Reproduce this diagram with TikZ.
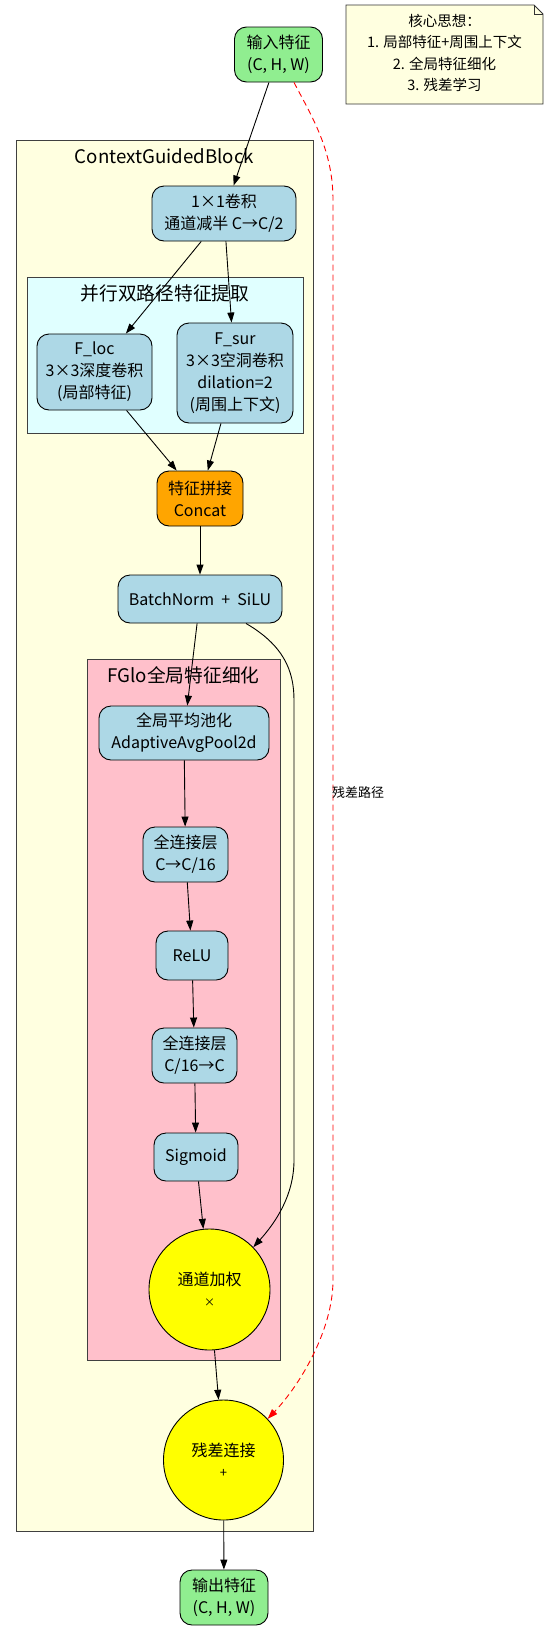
\documentclass[tikz,border=0pt]{standalone}
\usepackage{fontspec}
\setmainfont{Noto Sans CJK SC}
\usetikzlibrary{arrows.meta}

\definecolor{iogreen}{HTML}{90EE90}
\definecolor{opblue}{HTML}{ADD8E6}
\definecolor{oporange}{HTML}{FFA500}
\definecolor{opyellow}{HTML}{FFFF00}
\definecolor{grpyellow}{HTML}{FFFFE0}
\definecolor{grpcyan}{HTML}{E0FFFF}
\definecolor{grppink}{HTML}{FFC0CB}

\begin{document}
\begin{tikzpicture}[
  x=1pt,
  y=-1pt,
  grp/.style={draw=black!75,line width=0.9pt},
  grplab/.style={font=\fontsize{18.7}{22}\selectfont},
  blk/.style={draw=black,line width=0.9pt,rounded corners=12pt,align=center,inner sep=0pt,font=\fontsize{16}{22}\selectfont},
  io/.style={blk,fill=iogreen,minimum width=88pt,minimum height=55pt},
  op/.style={blk,fill=opblue},
  joinop/.style={draw=black,line width=0.9pt,circle,fill=opyellow,minimum size=121pt,inner sep=0pt,align=center,font=\fontsize{16}{21}\selectfont},
  edge/.style={-{Triangle[length=10pt,width=7pt]},line width=0.9pt},
  skip/.style={edge,draw=red,dash pattern=on 6pt off 4pt},
  lab/.style={font=\fontsize{13}{15}\selectfont}
]
\useasboundingbox[fill=white] (0,0) rectangle (547,1630);
% clusters
\path[grp,fill=grpyellow] (16,140) rectangle (313,1531);
\path[grp,fill=grpcyan] (27,277) rectangle (303,433);
\path[grp,fill=grppink] (87,659) rectangle (280,1360);
\node[grplab] (cgb) at (164.5,156) {ContextGuidedBlock};
\node[grplab] (dual) at (165,293) {并行双路径特征提取};
\node[grplab] (fglo) at (183.5,675) {FGlo全局特征细化};
% note
\path[draw=black!80,line width=0.9pt,fill=grpyellow] (346,5) -- (534,5) -- (543,14) -- (543,104) -- (346,104) -- cycle;
\draw[black!80,line width=0.9pt] (534,5) -- (534,14) -- (543,14);
\node[align=center,font=\fontsize{14.5}{21.5}\selectfont] (note) at (444.5,53) {核心思想：\\1. 局部特征+周围上下文\\2. 全局特征细化\\3. 残差学习};
% nodes
\node[io] (in) at (278.5,54.5) {输入特征\\(C, H, W)};
\node[op,minimum width=144pt,minimum height=55pt] (conv1) at (224,213.5) {1×1卷积\\通道减半 C→C/2};
\node[op,minimum width=115pt,minimum height=76pt] (floc) at (94.5,372) {F\_loc\\3×3深度卷积\\(局部特征)};
\node[op,minimum width=116pt,minimum height=100pt] (fsur) at (235,373) {F\_sur\\3×3空洞卷积\\dilation=2\\(周围上下文)};
\node[blk,fill=oporange,minimum width=86pt,minimum height=55pt] (concat) at (200,498.5) {特征拼接\\Concat};
\node[op,minimum width=164pt,minimum height=48pt] (bn) at (200,599) {BatchNorm\hspace{0.45em}+\hspace{0.45em}SiLU};
\node[op,minimum width=170pt,minimum height=54pt] (pool) at (184,733) {全局平均池化\\AdaptiveAvgPool2d};
\node[op,minimum width=85pt,minimum height=55pt] (fc1) at (185.5,854.5) {全连接层\\C→C/16};
\node[op,minimum width=72pt,minimum height=49pt] (relu) at (192,955.5) {ReLU};
\node[op,minimum width=85pt,minimum height=55pt] (fc2) at (194.5,1055.5) {全连接层\\C/16→C};
\node[op,minimum width=84pt,minimum height=48pt] (sig) at (196,1157) {Sigmoid};
\node[joinop] (mul) at (209.5,1289.5) {通道加权\\{\fontsize{11}{21}\selectfont ×}};
\node[joinop,minimum size=120pt] (add) at (223.5,1460) {残差连接\\{\fontsize{13}{21}\selectfont +}};
\node[io] (out) at (224,1597.5) {输出特征\\(C, H, W)};
% edges
\draw[edge] (in) -- (conv1);
\draw[edge] (conv1) -- (floc);
\draw[edge] (conv1) -- (fsur);
\draw[edge] (floc) -- (concat);
\draw[edge] (fsur) -- (concat);
\draw[edge] (concat) -- (bn);
\draw[edge] (bn) -- (pool);
\draw[edge] (bn.-28) .. controls (283,645) and (294,670) .. (294,700) -- (294,1160) .. controls (294,1195) and (276,1222) .. (mul.44);
\draw[edge] (pool) -- (fc1);
\draw[edge] (fc1) -- (relu);
\draw[edge] (relu) -- (fc2);
\draw[edge] (fc2) -- (sig);
\draw[edge] (sig) -- (mul);
\draw[edge] (mul) -- (add);
\draw[edge] (add) -- (out);
\draw[skip] (in.-61) .. controls (312,117) and (333,150) .. (333,200) -- (333,1280) .. controls (333,1330) and (300,1385) .. (add.43);
\node[lab,anchor=west,inner sep=0pt] (reslab) at (332,793) {残差路径};
\end{tikzpicture}
\end{document}
